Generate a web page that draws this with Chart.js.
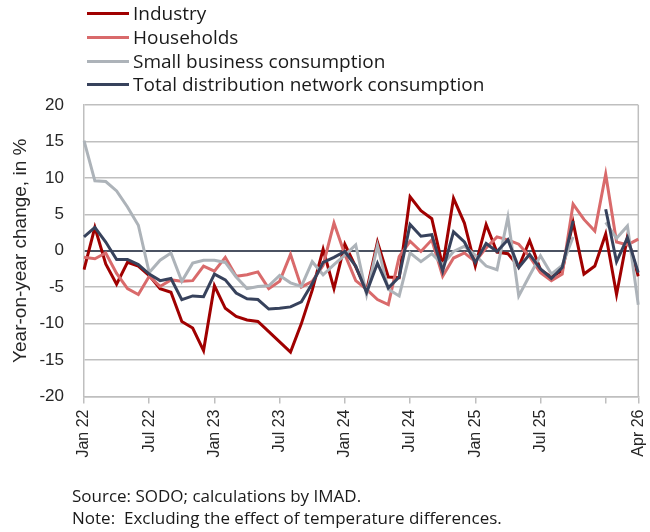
<!DOCTYPE html>
<html><head><meta charset="utf-8">
<script src="https://cdn.jsdelivr.net/npm/chart.js@4.4.1/dist/chart.umd.min.js"></script>
<style>
html,body{margin:0;padding:0;background:#fff;}
#wrap{position:relative;width:650px;height:532px;overflow:hidden;background:#fff;}
#c{position:absolute;left:0;top:0;}
#legend{position:absolute;left:87px;top:0;font-family:'Open Sans',sans-serif;font-size:19px;color:#1a1a1a;}
.li{position:absolute;left:0;white-space:nowrap;height:23px;line-height:23px;}
.li .sw{position:absolute;left:0;top:10px;width:42px;height:3px;}
.li .t{position:absolute;left:46px;top:0;}
.foot{position:absolute;left:72px;font-family:'Open Sans',sans-serif;font-size:17px;color:#1a1a1a;white-space:nowrap;line-height:21.6px;}
</style>
</head><body>
<div id="wrap">
<canvas id="c" width="650" height="532"></canvas>
<div id="legend"></div>
<div class="foot" id="foot" style="top:485px;"></div>
</div>
<script>
const months = ['Jan 22','Feb 22','Mar 22','Apr 22','May 22','Jun 22','Jul 22','Aug 22','Sep 22','Oct 22','Nov 22','Dec 22',
'Jan 23','Feb 23','Mar 23','Apr 23','May 23','Jun 23','Jul 23','Aug 23','Sep 23','Oct 23','Nov 23','Dec 23',
'Jan 24','Feb 24','Mar 24','Apr 24','May 24','Jun 24','Jul 24','Aug 24','Sep 24','Oct 24','Nov 24','Dec 24',
'Jan 25','Feb 25','Mar 25','Apr 25','May 25','Jun 25','Jul 25','Aug 25','Sep 25','Oct 25','Nov 25','Dec 25',
'Jan 26','Feb 26','Mar 26','Apr 26'];
const shownTicks = ['Jan 22','Jul 22','Jan 23','Jul 23','Jan 24','Jul 24','Jan 25','Jul 25','Apr 26'];
const markOnlyTicks = ['Jan 26'];

const industry = [-2.6, 3.2, -1.8, -4.6, -1.6, -2.1, -3.4, -5.2, -5.7, -9.7, -10.6, -13.7,
 -4.8, -7.9, -9.0, -9.5, -9.7, -11.1, -12.5, -13.9, -10.0, -5.4, 0.2, -5.2,
 0.9, -2.2, -5.5, 1.2, -3.6, -3.7, 7.4, 5.5, 4.4, -2.1, 7.2, 3.8,
 -2.1, 3.6, -0.2, -0.4, -2.2, 1.4, -2.6, -3.6, -2.7, 3.9, -3.2, -2.1,
 2.3, -6.0, 1.9, -3.5];
const households = [-0.9, -1.1, -0.3, -3.1, -5.2, -6.0, -3.5, -4.9, -4.0, -4.2, -4.1, -2.1,
 -2.8, -0.9, -3.5, -3.3, -2.9, -5.2, -4.2, -0.5, -5.0, -4.2, -2.0, 3.8,
 -0.5, -4.1, -5.3, -6.7, -7.4, -0.8, 1.3, -0.1, 1.5, -3.5, -1.0, -0.3,
 -1.5, 0.4, 1.9, 1.5, 0.9, -0.8, -3.0, -4.1, -3.2, 6.4, 4.3, 2.7,
 10.5, 1.2, 0.8, 1.6];
const smallBusiness = [15.1, 9.6, 9.5, 8.2, 6.0, 3.5, -3.0, -1.3, -0.3, -4.2, -1.7, -1.3,
 -1.3, -1.6, -3.6, -5.2, -4.9, -4.8, -3.4, -4.4, -4.9, -1.5, -3.3, -1.9,
 -0.6, 0.8, -6.0, 0.7, -5.3, -6.2, -0.3, -1.5, -0.4, -1.9, -0.1, 0.6,
 -0.6, -2.1, -2.6, 4.6, -6.2, -3.4, -0.7, -3.2, -2.0, 1.9, null, null,
 3.9, 1.7, 3.4, -7.4];
const totalNetwork = [1.9, 3.2, 1.2, -1.2, -1.2, -1.9, -3.2, -4.1, -3.8, -6.7, -6.2, -6.3,
 -3.2, -4.0, -5.8, -6.6, -6.7, -8.0, -7.9, -7.7, -7.0, -4.5, -1.6, -0.9,
 -0.1, -2.1, -5.7, -1.7, -5.1, -3.6, 3.6, 2.0, 2.2, -2.8, 2.6, 1.2,
 -1.6, 1.0, -0.1, 1.5, -2.3, -0.5, -2.5, -3.8, -2.3, 4.1, null, null,
 5.7, -1.5, 1.8, -3.0];

const seriesNames = ['Industry','Households','Small business consumption','Total distribution network consumption'];
const seriesColors = ['#a00000','#d96a6b','#adb3b9','#37425c'];
const seriesData = [industry, households, smallBusiness, totalNetwork];
const yTitle = 'Year-on-year change, in %';
const footLines = ['Source: SODO; calculations by IMAD.','Note:\u00a0 Excluding the effect of temperature differences.'];

// legend (HTML)
const lg = document.getElementById('legend');
const rowCenters = [13.3, 37.3, 61, 84.3];
seriesNames.forEach((n,i)=>{
  const d=document.createElement('div'); d.className='li'; d.style.top=(rowCenters[i]-11.5)+'px';
  const s=document.createElement('div'); s.className='sw'; s.style.background=seriesColors[i];
  const t=document.createElement('span'); t.className='t'; t.textContent=n;
  d.appendChild(s); d.appendChild(t); lg.appendChild(d);
});
document.getElementById('foot').innerHTML = footLines.map(l=>'<div>'+l+'</div>').join('');

const tickFont = "'Liberation Sans', Arial, sans-serif";
const rightBorder = {id:'rightBorder', beforeDatasetsDraw(chart){
  const {ctx, chartArea:a} = chart; ctx.save(); ctx.strokeStyle='#bfbfbf'; ctx.lineWidth=1.5;
  ctx.beginPath(); ctx.moveTo(a.right, a.top); ctx.lineTo(a.right, a.bottom); ctx.stroke(); ctx.restore();
}};

new Chart(document.getElementById('c'), {
  type:'line',
  data:{
    labels: months,
    datasets: seriesData.map((d,i)=>({label:seriesNames[i], data:d, borderColor:seriesColors[i], backgroundColor:seriesColors[i], order: 3-i, spanGaps:false}))
  },
  options:{
    responsive:false, animation:false, devicePixelRatio: window.devicePixelRatio || 1,
    layout:{padding:{top:105,right:11.7,bottom:70,left:0}},
    plugins:{legend:{display:false}, tooltip:{enabled:false}},
    elements:{point:{radius:0, hoverRadius:0}, line:{borderWidth:3, tension:0, borderJoinStyle:'miter', borderCapStyle:'butt'}},
    scales:{
      x:{
        offset:false,
        grid:{drawOnChartArea:false, tickLength:7, lineWidth:1.5,
          color:c=>{const l=months[c.index]; return (shownTicks.includes(l)||markOnlyTicks.includes(l))?'#bfbfbf':'rgba(0,0,0,0)';}},
        border:{color:'#bfbfbf', width:1.5},
        ticks:{autoSkip:false, maxRotation:90, minRotation:90, padding:6, color:'#262626', font:{family:tickFont, size:16},
          callback:(v,i)=>shownTicks.includes(months[i])?months[i]:''},
        afterFit:s=>{s.height=65.5; s.paddingLeft=0; s.paddingRight=0;}
      },
      y:{
        min:-20, max:20,
        ticks:{stepSize:5, padding:20, color:'#262626', font:{family:tickFont, size:17}},
        grid:{drawTicks:false, color:c=>c.tick&&c.tick.value===0?'#4b5262':'#bfbfbf', lineWidth:c=>c.tick&&c.tick.value===0?2:1.5},
        border:{color:'#bfbfbf', width:1.5},
        title:{display:true, text:yTitle, color:'#262626', font:{family:tickFont, size:19}, padding:{top:9,bottom:0}},
        afterFit:s=>{s.width=84; s.paddingTop=0; s.paddingBottom=0;}
      }
    }
  },
  plugins:[rightBorder]
});
</script>
</body></html>
